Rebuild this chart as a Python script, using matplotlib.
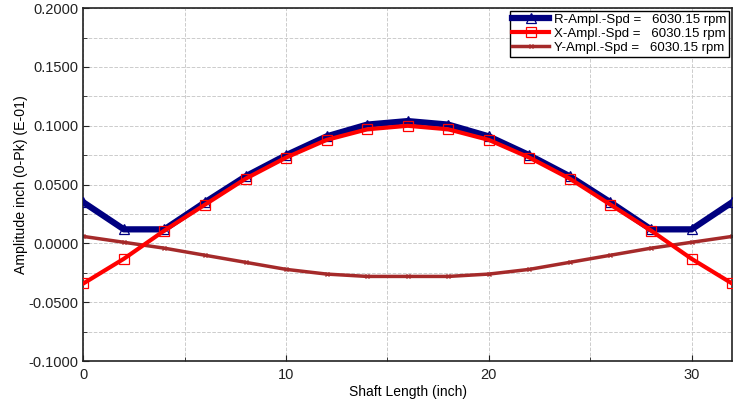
import numpy as np
import matplotlib.pyplot as plt
from matplotlib.ticker import MultipleLocator, FormatStrFormatter

plt.rcParams['font.family'] = ['Liberation Sans', 'DejaVu Sans']

# Shaft stations (inch)
shaft_pos = [0, 2, 4, 6, 8, 10, 12, 14, 16, 18, 20, 22, 24, 26, 28, 30, 32]

# Amplitudes (0-Pk, E-01 inch)
r_ampl = [0.035, 0.012, 0.012, 0.035, 0.057, 0.075, 0.091, 0.101, 0.104,
          0.101, 0.091, 0.075, 0.057, 0.035, 0.012, 0.012, 0.035]
x_ampl = [-0.034, -0.013, 0.011, 0.033, 0.055, 0.073, 0.088, 0.097, 0.100,
          0.097, 0.088, 0.073, 0.055, 0.033, 0.011, -0.013, -0.034]
y_ampl = [0.006, 0.001, -0.004, -0.010, -0.016, -0.022, -0.026, -0.028, -0.028,
          -0.028, -0.026, -0.022, -0.016, -0.010, -0.004, 0.001, 0.006]

labels = ['R-Ampl.-Spd =   6030.15 rpm',
          'X-Ampl.-Spd =   6030.15 rpm',
          'Y-Ampl.-Spd =   6030.15 rpm']

fig = plt.figure(figsize=(7.44, 4.04), dpi=100)
ax = fig.add_axes([0.112, 0.106, 0.872, 0.874])

ax.plot(shaft_pos, r_ampl, color='#000080', lw=4.5, marker='^', ms=7,
        mfc='none', mec='#000080', mew=0.9, label=labels[0], zorder=3)
ax.plot(shaft_pos, x_ampl, color='#ff0000', lw=3, marker='s', ms=7,
        mfc='none', mec='#ff0000', mew=0.9, label=labels[1], zorder=4)
ax.plot(shaft_pos, y_ampl, color='#a52a2a', lw=2.5, marker='x', ms=3,
        mec='#a52a2a', label=labels[2], zorder=2)

ax.set_xlim(0, 32)
ax.set_ylim(-0.1, 0.2)
ax.xaxis.set_major_locator(MultipleLocator(10))
ax.xaxis.set_minor_locator(MultipleLocator(5))
ax.yaxis.set_major_locator(MultipleLocator(0.05))
ax.yaxis.set_minor_locator(MultipleLocator(0.025))
ax.yaxis.set_major_formatter(FormatStrFormatter('%.4f'))

ax.grid(which='both', color='#cccccc', linestyle='--', linewidth=0.7)
ax.tick_params(which='both', direction='in', labelsize=10.5, colors='#222222')
ax.tick_params(axis='x', pad=5)
ax.tick_params(which='major', length=4)
ax.tick_params(which='minor', length=3)
for sp in ax.spines.values():
    sp.set_color('#222222')
    sp.set_linewidth(1.2)

ax.set_xlabel('Shaft Length (inch)', fontsize=10, labelpad=2)
ax.set_ylabel('Amplitude inch (0-Pk) (E-01)', fontsize=10.2, labelpad=0)

leg = ax.legend(loc='upper right', fontsize=9.5, frameon=True, fancybox=False,
                edgecolor='black', framealpha=1, borderaxespad=0.2,
                handlelength=2.8, handletextpad=0.4, labelspacing=0.15,
                borderpad=0.2, numpoints=1, bbox_to_anchor=(1.0, 1.0))
leg.get_frame().set_linewidth(1.0)

fig.savefig('out.png', dpi=100)
